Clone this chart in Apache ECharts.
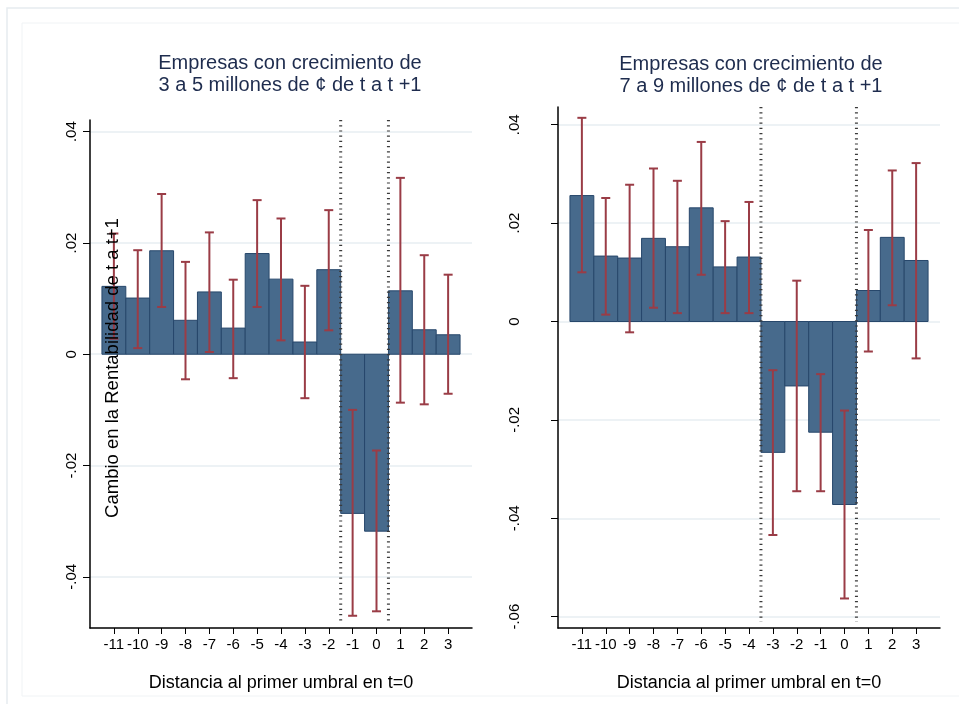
<!DOCTYPE html>
<html><head><meta charset="utf-8">
<script src="https://cdn.jsdelivr.net/npm/echarts@6/dist/echarts.min.js"></script>
<style>html,body{margin:0;padding:0;background:#fff}#c{width:959px;height:704px}</style>
</head><body><div id="c"></div><script>
const categories = [-11,-10,-9,-8,-7,-6,-5,-4,-3,-2,-1,0,1,2,3];
const leftValues = [0.0122,0.0101,0.0186,0.0061,0.0112,0.0047,0.0181,0.0135,0.0022,0.0152,-0.0286,-0.0318,0.0114,0.0044,0.0035];
const leftLow    = [0.0028,0.0011,0.0085,-0.0045,0.0004,-0.0043,0.0085,0.0025,-0.0079,0.0043,-0.0470,-0.0462,-0.0087,-0.0090,-0.0071];
const leftHigh   = [0.0217,0.0187,0.0288,0.0166,0.0219,0.0134,0.0277,0.0244,0.0123,0.0259,-0.0100,-0.0173,0.0317,0.0178,0.0143];
const rightValues = [0.0256,0.0133,0.0129,0.0169,0.0152,0.0231,0.0111,0.0131,-0.0266,-0.0131,-0.0225,-0.0372,0.0063,0.0171,0.0124];
const rightLow    = [0.0100,0.0014,-0.0022,0.0028,0.0017,0.0095,0.0017,0.0017,-0.0434,-0.0345,-0.0345,-0.0563,-0.0061,0.0033,-0.0075];
const rightHigh   = [0.0414,0.0251,0.0278,0.0311,0.0286,0.0365,0.0204,0.0243,-0.0099,0.0083,-0.0107,-0.0181,0.0186,0.0307,0.0322];
const leftTicks = [-0.04,-0.02,0,0.02,0.04];
const rightTicks = [-0.06,-0.04,-0.02,0,0.02,0.04];
const leftCutoffs = [-1.5, 0.5];
const rightCutoffs = [-3.5, 0.5];
const leftTitle = 'Empresas con crecimiento de\n3 a 5 millones de ¢ de t a t +1';
const rightTitle = 'Empresas con crecimiento de\n7 a 9 millones de ¢ de t a t +1';
const xTitle = 'Distancia al primer umbral en t=0';
const yTitle = 'Cambio en la Rentabilidad de t a t+1';

const FONT = '"Liberation Sans", Arial, Helvetica, sans-serif';
const BAR_FILL = '#476a8c', BAR_EDGE = '#27476b', ERR = '#9a3c46', GRIDC = '#e7eef2';

function fmtY(v){ if (Math.abs(v) < 1e-9) return '0'; return (v<0?'-':'') + Math.abs(v).toFixed(2).replace(/^0/,''); }

function barRender(params, api){
  const x = api.value(0), v = api.value(1);
  const p0 = api.coord([x-0.5, 0]), p1 = api.coord([x+0.5, v]);
  return {type:'rect', shape:{x:Math.min(p0[0],p1[0]), y:Math.min(p0[1],p1[1]), width:Math.abs(p1[0]-p0[0]), height:Math.abs(p1[1]-p0[1])},
    style:{fill:BAR_FILL, stroke:BAR_EDGE, lineWidth:1}};
}
function errRender(params, api){
  const x = api.value(0), lo = api.value(1), hi = api.value(2);
  const a = api.coord([x, hi]), b = api.coord([x, lo]); const w = 4.5;
  const st = {stroke:ERR, lineWidth:2};
  return {type:'group', children:[
    {type:'line', shape:{x1:a[0],y1:a[1],x2:b[0],y2:b[1]}, style:st},
    {type:'line', shape:{x1:a[0]-w,y1:a[1],x2:a[0]+w,y2:a[1]}, style:st},
    {type:'line', shape:{x1:b[0]-w,y1:b[1],x2:b[0]+w,y2:b[1]}, style:st}
  ]};
}
function cutRender(params, api){
  const x = api.value(0); const cs = params.coordSys;
  const p = api.coord([x, 0]);
  return {type:'line', shape:{x1:p[0], y1:cs.y, x2:p[0], y2:cs.y+cs.height-6},
    style:{stroke:'#3a3a3a', lineWidth:3, lineDash:[1.2,4]}};
}

function xAxisDef(idx){
  return {type:'value', gridIndex:idx, min:-12, max:4,
    name:xTitle, nameLocation:'middle', nameGap:46,
    nameTextStyle:{fontSize:18, color:'#000', fontFamily:FONT},
    axisLine:{show:true, onZero:false, lineStyle:{color:'#000', width:1.5}},
    axisTick:{show:true, length:6, customValues:categories, lineStyle:{color:'#000', width:1}},
    axisLabel:{customValues:categories, fontSize:15, color:'#000', fontFamily:FONT, margin:9},
    splitLine:{show:false}};
}
function yAxisDef(idx, mn, mx, ticks, margin){
  return {type:'value', gridIndex:idx, min:mn, max:mx,
    axisLine:{show:true, onZero:false, lineStyle:{color:'#000', width:1.5}},
    axisTick:{show:true, length:7, customValues:ticks, lineStyle:{color:'#000', width:1}},
    axisLabel:{customValues:ticks, rotate:90, fontSize:15, color:'#000', fontFamily:FONT, margin:margin, formatter:fmtY},
    splitLine:{show:true, lineStyle:{color:GRIDC, width:1.5}}};
}

const chart = echarts.init(document.getElementById('c'), null, {renderer:'canvas'});
const mk = (vals) => categories.map((c,i)=>[c, vals[i]]);
const mkErr = (lo,hi) => categories.map((c,i)=>[c, lo[i], hi[i]]);
chart.setOption({
  backgroundColor:'#fff',
  animation:false,
  grid:[
    {left:90, top:120, width:382, height:508},
    {left:558, top:107, width:382, height:521}
  ],
  xAxis:[xAxisDef(0), xAxisDef(1)],
  yAxis:[yAxisDef(0, -0.0492, 0.0421, leftTicks, 11), yAxisDef(1, -0.0623, 0.0436, rightTicks, 36)],
  graphic:[
    {type:'rect', z:-10, shape:{x:7, y:8, width:980, height:720}, style:{fill:'none', stroke:'#e6ecf0', lineWidth:1.5}},
    {type:'rect', z:-10, shape:{x:22, y:23, width:960, height:673}, style:{fill:'none', stroke:'#f0f3f5', lineWidth:1}},
    {type:'text', x:290, y:52, style:{text:leftTitle, textAlign:'center', textVerticalAlign:'top', fontSize:20, lineHeight:22, fill:'#1e2c4e', fontFamily:FONT}},
    {type:'text', x:751, y:53, style:{text:rightTitle, textAlign:'center', textVerticalAlign:'top', fontSize:20, lineHeight:22, fill:'#1e2c4e', fontFamily:FONT}},
    {type:'text', x:113, y:368, rotation:Math.PI/2, z:100, style:{text:yTitle, textAlign:'center', textVerticalAlign:'middle', fontSize:18.5, fill:'#000', fontFamily:FONT}}
  ],
  series:[
    {type:'custom', xAxisIndex:0, yAxisIndex:0, renderItem:barRender, data:mk(leftValues), z:2},
    {type:'custom', xAxisIndex:0, yAxisIndex:0, renderItem:cutRender, data:leftCutoffs.map(v=>[v]), z:3},
    {type:'custom', xAxisIndex:0, yAxisIndex:0, renderItem:errRender, data:mkErr(leftLow,leftHigh), z:4},
    {type:'custom', xAxisIndex:1, yAxisIndex:1, renderItem:barRender, data:mk(rightValues), z:2},
    {type:'custom', xAxisIndex:1, yAxisIndex:1, renderItem:cutRender, data:rightCutoffs.map(v=>[v]), z:3},
    {type:'custom', xAxisIndex:1, yAxisIndex:1, renderItem:errRender, data:mkErr(rightLow,rightHigh), z:4}
  ]
});
</script></body></html>
